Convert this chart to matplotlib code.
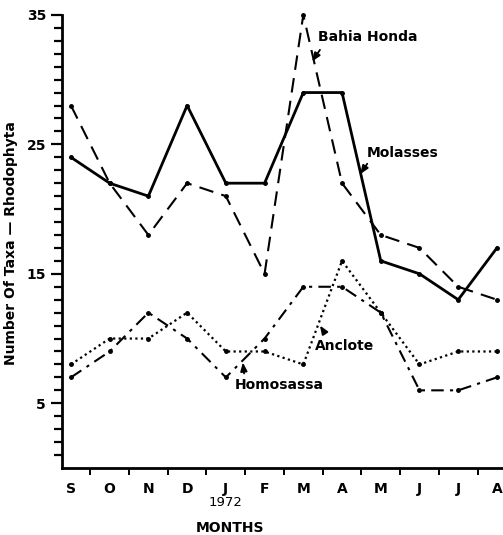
import numpy as np
import matplotlib.pyplot as plt

months = ["S", "O", "N", "D", "J", "F", "M", "A", "M", "J", "J", "A"]
molasses = [24, 22, 21, 28, 22, 22, 29, 29, 16, 15, 13, 17]
bahia_honda = [28, 22, 18, 22, 21, 15, 35, 22, 18, 17, 14, 13]
anclote = [7, 9, 12, 10, 7, 10, 14, 14, 12, 6, 6, 7]
homosassa = [8, 10, 10, 12, 9, 9, 8, 16, 12, 8, 9, 9]

x = np.arange(len(months))

fig = plt.figure(figsize=(5.03, 5.35), dpi=100)
ax = fig.add_axes([0.1233, 0.1252, 0.877, 0.847])

kw = dict(color="black", marker="o", markersize=2.5, clip_on=False)
ax.plot(x, molasses, linestyle="-", linewidth=2.0, **kw)
ax.plot(x, bahia_honda, linestyle=(0, (7, 4)), linewidth=1.5, **kw)
ax.plot(x, anclote, linestyle=(0, (6, 3, 1.5, 3)), linewidth=1.5, **kw)
ax.plot(x, homosassa, linestyle=(0, (1, 1.5)), linewidth=1.6, **kw)

ax.set_xlim(-0.23, 11.16)
ax.set_ylim(0, 35)

for s in ["top", "right"]:
    ax.spines[s].set_visible(False)
for s in ["left", "bottom"]:
    ax.spines[s].set_linewidth(2)

ax.set_yticks([5, 15, 25, 35])
ax.set_yticks(np.arange(1, 36), minor=True)
ax.tick_params(axis="y", which="major", length=8, width=1.6, labelsize=10)
ax.tick_params(axis="y", which="minor", length=6, width=1.6)
for lab in ax.get_yticklabels():
    lab.set_fontweight("bold")

ax.set_xticks(x)
ax.set_xticklabels(months, fontweight="bold", fontsize=10)
ax.set_xticks(x[:-1] + 0.5, minor=True)
ax.tick_params(axis="x", which="major", length=0, pad=10)
ax.tick_params(axis="x", which="minor", length=5, width=1.4)

ax.text(4, -2.7, "1972", ha="center", va="center", fontsize=9.5, clip_on=False)
ax.text(4.1, -4.6, "MONTHS", ha="center", va="center", fontsize=10,
        fontweight="bold", clip_on=False)
fig.text(0.022, 0.545, "Number Of Taxa \u2014 Rhodophyta", rotation=90,
         ha="center", va="center", fontsize=10, fontweight="bold")

arrow = dict(arrowstyle="-|>,head_length=0.5,head_width=0.2",
             color="black", lw=1.3, shrinkA=0, shrinkB=0)
labels = [
    ("Bahia Honda", (6.38, 33.3), (6.43, 32.3), (6.23, 31.4)),
    ("Molasses", (7.65, 24.3), (7.65, 23.5), (7.47, 22.7)),
    ("Anclote", (6.3, 9.4), (6.56, 10.4), (6.43, 11.0)),
    ("Homosassa", (4.24, 6.4), (4.47, 7.3), (4.44, 8.15)),
]
for name, pos, start, end in labels:
    ax.text(pos[0], pos[1], name, fontsize=10, fontweight="bold",
            ha="left", va="center")
    ax.annotate("", xy=end, xytext=start, arrowprops=arrow)

fig.savefig("out.png", dpi=100)
